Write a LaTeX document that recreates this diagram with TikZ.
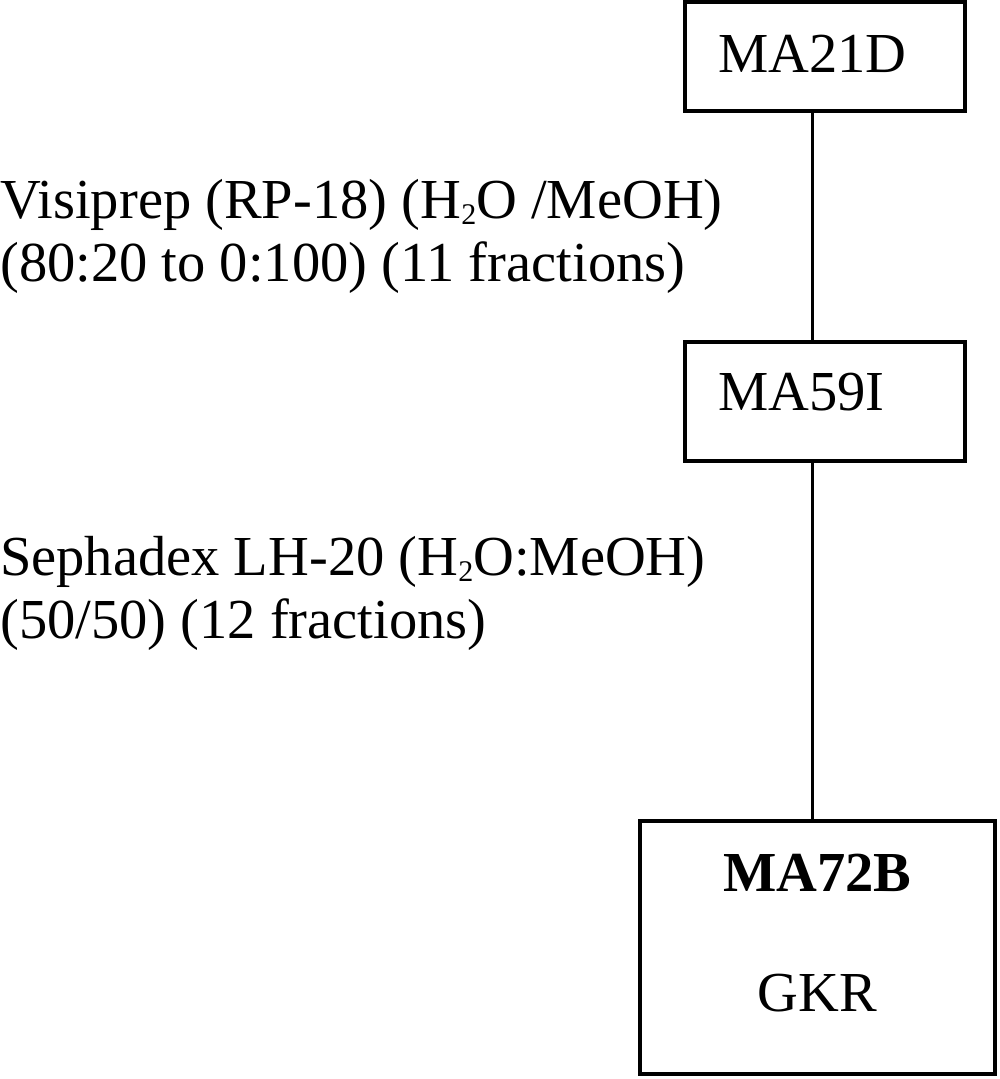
\documentclass[tikz,border=0pt]{standalone}
\usepackage{fontspec}
\setmainfont{Liberation Serif}
\usepackage{tikz}
\newcommand{\subtwo}{\raisebox{-6pt}{\fontsize{30}{30}\selectfont 2}}

\begin{document}
\begin{tikzpicture}[x=1pt,y=-1pt,
  fraction/.style={draw, line width=4.5pt, inner sep=0pt, font=\fontsize{56.5}{63}\selectfont},
  column/.style={line width=3pt},
  method/.style={align=left, inner sep=0pt, anchor=base west, font=\fontsize{56.5}{63}\selectfont}]
\useasboundingbox (0,0) rectangle (1000,1079);
\coordinate (spine) at (812,0);
\node[fraction, minimum width=280pt, minimum height=109pt, text width=214pt, align=left, text height=37pt, text depth=6pt] (ma21d) at (825,56.5) {MA21D};
\node[fraction, minimum width=280pt, minimum height=119pt, text width=214pt, align=left, text height=37pt, text depth=20pt] (ma59i) at (825,401.5) {MA59I};
\node[fraction, minimum width=355pt, minimum height=253pt, align=center, text depth=30pt] (ma72b) at (817.5,947.5) {\textbf{MA72B}\\[57pt]GKR};
\draw[column] (ma21d.south -| spine) -- (ma59i.north -| spine);
\draw[column] (ma59i.south -| spine) -- (ma72b.north -| spine);
\node[method] (visiprep) at (0,281) {Visiprep (RP-18) (H\subtwo O /MeOH)\\(80:20 to 0:100) (11 fractions)};
\node[method] (sephadex) at (0,638) {Sephadex LH-20 (H\subtwo O:MeOH)\\(50/50) (12 fractions)};
\end{tikzpicture}
\end{document}
